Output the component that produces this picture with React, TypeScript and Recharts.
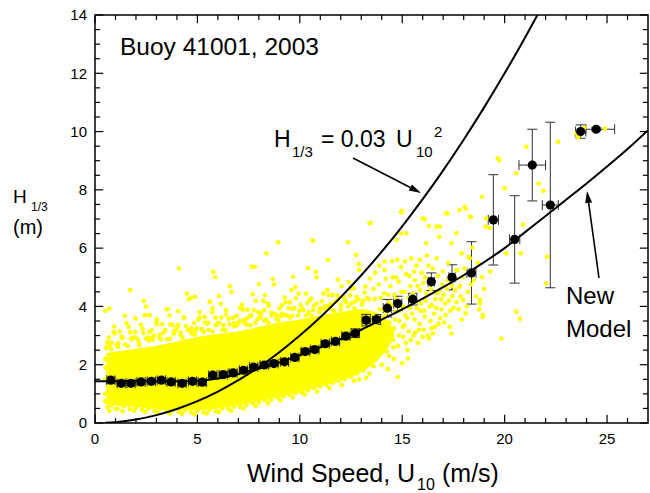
import React from 'react';
import {
  ComposedChart,
  XAxis,
  YAxis,
  Area,
  Scatter,
  ErrorBar,
  ReferenceLine,
  ReferenceArea,
  Customized,
} from 'recharts';

const FONT = '"Liberation Sans", Arial, Helvetica, sans-serif';
const YELLOW = '#FFFF00';

// ---- Dense core of the yellow cloud (lower / upper edge vs wind speed)
const bandX = [0.55, 1, 2, 3, 4, 5, 6, 7, 8, 9, 10, 11, 12, 13, 14, 14.6];
const bandLow = [0.65, 0.6, 0.55, 0.48, 0.44, 0.44, 0.5, 0.6, 0.75, 0.9, 1.05, 1.25, 1.45, 1.75, 2.3, 2.9];
const bandHigh = [2.4, 2.45, 2.55, 2.65, 2.8, 2.95, 3.05, 3.15, 3.3, 3.45, 3.55, 3.7, 3.8, 3.9, 3.7, 3.2];

// ---- Individual yellow observations: upper fringe of the cloud
const upperFringe: [number, number][] = [
  [0.55, 2.57], [0.68, 2.93], [0.81, 2.75], [0.94, 3.31], [1.07, 2.68], [1.2, 3.14], [1.33, 2.91], [1.46, 3.68],
  [1.59, 2.64], [1.72, 3.11], [1.85, 2.92], [1.98, 3.59], [2.11, 2.85], [2.24, 3.37], [2.37, 3.08], [2.5, 4.0],
  [2.63, 2.82], [2.76, 3.18], [2.89, 3.0], [3.02, 3.56], [3.15, 2.93], [3.28, 3.39], [3.41, 3.16], [3.54, 3.92],
  [3.67, 2.89], [3.8, 3.36], [3.93, 3.17], [4.06, 3.84], [4.19, 3.1], [4.32, 3.62], [4.45, 3.33], [4.58, 4.25],
  [4.71, 3.07], [4.84, 3.43], [4.97, 3.25], [5.1, 3.81], [5.23, 3.18], [5.36, 3.64], [5.49, 3.41], [5.62, 4.17],
  [5.75, 3.14], [5.88, 3.61], [6.01, 3.42], [6.14, 4.09], [6.27, 3.35], [6.4, 3.87], [6.53, 3.58], [6.66, 4.5],
  [6.79, 3.31], [6.92, 3.68], [7.05, 3.5], [7.18, 4.06], [7.31, 3.43], [7.44, 3.89], [7.57, 3.66], [7.7, 4.42],
  [7.83, 3.44], [7.96, 3.81], [8.09, 3.62], [8.22, 4.19], [8.35, 3.55], [8.48, 4.02], [8.61, 3.78], [8.74, 4.75],
  [8.87, 3.56], [9.0, 3.93], [9.13, 3.75], [9.26, 4.31], [9.39, 3.68], [9.52, 4.14], [9.65, 3.91], [9.78, 4.67],
  [9.91, 3.69], [10.04, 4.05], [10.17, 3.87], [10.3, 4.44], [10.43, 3.8], [10.56, 4.27], [10.69, 4.03], [10.82, 5.0],
  [10.95, 3.81], [11.08, 4.18], [11.21, 4.0], [11.34, 4.56], [11.47, 3.93], [11.6, 4.39], [11.73, 4.16], [11.86, 4.92],
  [11.99, 3.89], [12.12, 4.35], [12.25, 4.17], [12.38, 4.84], [12.51, 4.1], [12.64, 4.62], [12.77, 4.33], [12.9, 5.25],
  [13.03, 4.06], [13.16, 4.48], [13.29, 4.29], [13.42, 4.96],
  [0.62, 2.77], [0.79, 2.54], [0.96, 3.07], [1.13, 2.74], [1.3, 2.96], [1.47, 2.7], [1.64, 3.3], [1.81, 2.87],
  [1.98, 2.94], [2.15, 2.71], [2.32, 3.23], [2.49, 2.9], [2.66, 3.12], [2.83, 2.86], [3.0, 3.46], [3.17, 3.03],
  [3.34, 3.1], [3.51, 2.87], [3.68, 3.39], [3.85, 3.06], [4.02, 3.28], [4.19, 3.02], [4.36, 3.62], [4.53, 3.19],
  [4.7, 3.26], [4.87, 3.03], [5.04, 3.55], [5.21, 3.23], [5.38, 3.45], [5.55, 3.19], [5.72, 3.79], [5.89, 3.36],
  [6.06, 3.43], [6.23, 3.2], [6.4, 3.72], [6.57, 3.39], [6.74, 3.61], [6.91, 3.35], [7.08, 3.95], [7.25, 3.52],
  [7.42, 3.59], [7.59, 3.36], [7.76, 3.88], [7.93, 3.55], [8.1, 3.77], [8.27, 3.51], [8.44, 4.11], [8.61, 3.68],
  [8.78, 3.75], [8.95, 3.52], [9.12, 4.04], [9.29, 3.71], [9.46, 3.94], [9.63, 3.68], [9.8, 4.28], [9.97, 3.85],
  [10.14, 3.92], [10.31, 3.69], [10.48, 4.21], [10.65, 3.88], [10.82, 4.1], [10.99, 3.84], [11.16, 4.44], [11.33, 4.01],
  [11.5, 4.08], [11.67, 3.85], [11.84, 4.37], [12.01, 4.04], [12.18, 4.26], [12.35, 4.0], [12.52, 4.6], [12.69, 4.17],
  [12.86, 4.24], [13.03, 4.08], [13.2, 4.68], [13.37, 4.25],
  [0.7, 2.66], [0.91, 3.13], [1.12, 2.61], [1.33, 2.94], [1.54, 3.43], [1.75, 2.89], [1.96, 3.12], [2.17, 2.68],
  [2.38, 4.19], [2.59, 2.93], [2.8, 2.92], [3.01, 3.38], [3.22, 2.87], [3.43, 3.19], [3.64, 3.69], [3.85, 3.14],
  [4.06, 3.37], [4.27, 2.93], [4.48, 4.44], [4.69, 3.18], [4.9, 3.17], [5.11, 3.63], [5.32, 3.12], [5.53, 3.44],
  [5.74, 3.94], [5.95, 3.39], [6.16, 3.62], [6.37, 3.18], [6.58, 4.69], [6.79, 3.43], [7.0, 3.42], [7.21, 3.89],
  [7.42, 3.37], [7.63, 3.7], [7.84, 4.19], [8.05, 3.65], [8.26, 3.87], [8.47, 3.44], [8.68, 4.94], [8.89, 3.69],
  [9.1, 3.67], [9.31, 4.14], [9.52, 3.62], [9.73, 3.95], [9.94, 4.44], [10.15, 3.9], [10.36, 4.12], [10.57, 3.69],
  [10.78, 5.19], [10.99, 3.94], [11.2, 3.92], [11.41, 4.39], [11.62, 3.87], [11.83, 4.2], [12.04, 4.69], [12.25, 4.15],
  [12.46, 4.38], [12.67, 3.94], [12.88, 5.45], [13.09, 4.19],
];

// ---- Individual yellow observations: high-wind part of the cloud
const rightCloud: [number, number][] = [
  [13.55, 2.35], [13.62, 2.9], [13.7, 3.4], [13.6, 4.6], [13.68, 5.15], [13.75, 2.55], [13.82, 3.15], [13.9, 3.9],
  [13.95, 4.3], [13.88, 5.4], [14.02, 2.75], [14.08, 3.3], [14.15, 3.65], [14.12, 4.45], [14.2, 4.95], [14.25, 2.45],
  [14.3, 3.0], [14.38, 3.45], [14.35, 4.15], [14.42, 4.7], [14.5, 5.55], [14.55, 2.85], [14.6, 3.25], [14.66, 3.8],
  [14.62, 4.4], [14.7, 5.0], [14.78, 2.65], [14.85, 3.5], [14.9, 4.05], [14.82, 4.85], [14.95, 5.35], [15.05, 2.95],
  [15.1, 3.35], [15.15, 3.7], [15.12, 4.5], [15.2, 5.1], [15.25, 2.5], [15.32, 3.15], [15.38, 3.95], [15.4, 4.7],
  [15.45, 5.65], [15.55, 3.0], [15.6, 3.55], [15.66, 4.15], [15.62, 4.9], [15.7, 5.4], [15.78, 2.75], [15.85, 3.4],
  [15.9, 3.85], [15.88, 4.55], [15.95, 5.15], [16.05, 3.2], [16.1, 3.65], [16.15, 4.2], [16.12, 5.0], [16.2, 5.75],
  [16.3, 2.9], [16.38, 3.5], [16.45, 4.05], [16.4, 4.6], [16.5, 5.3], [16.6, 3.3], [16.66, 3.95], [16.7, 4.45],
  [16.75, 5.05], [16.85, 3.6], [16.9, 4.25], [16.95, 4.75], [17.05, 3.45], [17.1, 4.1], [17.18, 4.6], [17.25, 5.5],
  [17.35, 3.85], [17.45, 4.35], [17.55, 5.0], [17.65, 4.15], [17.8, 4.7], [17.9, 3.55], [18.05, 5.3], [18.2, 4.5],
  [18.5, 4.9], [18.7, 5.5], [19.0, 4.6], [19.3, 5.2],
  [13.45, 2.6], [13.52, 3.05], [13.58, 3.75], [13.66, 4.25], [13.72, 2.2], [13.8, 3.55], [13.86, 4.75], [13.93, 2.45],
  [14.0, 3.1], [14.06, 3.9], [14.14, 5.25], [14.18, 2.9], [14.24, 3.8], [14.32, 4.4], [14.36, 2.3], [14.44, 3.2],
  [14.48, 4.05], [14.54, 5.0], [14.58, 2.6], [14.64, 3.55], [14.72, 4.25], [14.76, 5.6], [14.84, 3.0], [14.88, 3.85],
  [14.96, 4.5], [15.02, 3.3], [15.08, 4.0], [15.14, 5.55], [15.18, 2.75], [15.24, 3.6], [15.3, 4.3], [15.36, 5.05],
  [15.42, 2.85], [15.48, 3.75], [15.52, 4.45], [15.58, 5.2], [15.64, 3.1], [15.72, 3.95], [15.76, 4.7], [15.82, 3.2],
  [15.86, 5.6], [15.92, 4.1], [16.0, 2.95], [16.02, 4.8], [16.08, 3.85], [16.18, 4.45], [16.24, 3.0], [16.28, 5.4],
  [16.34, 4.0], [16.42, 3.25], [16.48, 4.9], [16.56, 3.75], [16.62, 4.25], [16.68, 5.65], [16.78, 3.4], [16.82, 4.55],
  [16.92, 3.9], [16.98, 5.2], [17.02, 4.4], [17.12, 3.7], [17.2, 4.9], [17.28, 4.2], [17.32, 3.3], [17.42, 4.7],
  [17.5, 3.95], [17.58, 4.55], [17.7, 5.25], [17.75, 3.9], [17.85, 4.35], [17.95, 5.0], [18.15, 4.0], [18.25, 5.7],
  [18.35, 4.75], [18.6, 4.35], [18.75, 3.9], [18.9, 5.0],
];

// ---- Individual yellow observations: lower fringe of the cloud
const lowerFringe: [number, number][] = [
  [0.6, 0.55], [0.8, 0.6], [1.1, 0.5], [1.4, 0.58], [1.7, 0.48], [2.0, 0.52], [2.3, 0.45], [2.6, 0.5],
  [2.9, 0.42], [3.2, 0.47], [3.5, 0.4], [3.8, 0.44], [4.1, 0.38], [4.4, 0.43], [4.7, 0.37], [5.0, 0.42],
  [5.3, 0.36], [5.6, 0.45], [5.9, 0.4], [6.2, 0.5], [6.5, 0.48], [6.8, 0.56], [7.1, 0.55], [7.4, 0.62],
  [7.7, 0.68], [8.0, 0.7], [8.3, 0.78], [8.6, 0.8], [8.9, 0.88], [9.2, 0.92], [9.5, 0.98], [9.8, 1.03],
  [10.1, 1.05], [10.4, 1.12], [10.7, 1.2], [11.0, 1.25], [11.3, 1.3], [11.6, 1.38], [11.9, 1.45], [12.2, 1.5],
  [12.5, 1.58], [12.8, 1.7], [13.1, 1.8],
  [0.7, 0.42], [1.0, 0.48], [1.35, 0.4], [1.9, 0.42], [2.45, 0.38], [3.05, 0.36], [3.65, 0.33], [4.25, 0.32],
  [4.85, 0.3], [5.45, 0.33], [6.05, 0.38], [6.65, 0.42], [7.25, 0.5], [7.85, 0.58], [8.45, 0.68], [9.05, 0.78],
  [9.65, 0.88], [10.25, 0.98], [10.85, 1.08], [11.45, 1.2], [12.05, 1.3], [12.65, 1.45], [13.25, 1.55], [13.6, 1.95],
  [14.0, 2.0], [14.3, 1.85], [14.6, 2.2], [15.0, 2.05], [12.9, 1.5], [13.4, 1.7],
  [0.5, 1.0], [0.5, 1.5], [0.52, 1.9], [0.55, 2.6], [0.5, 0.75], [0.5, 2.2],
];

// ---- Individual yellow observations: isolated outliers
const outliers: [number, number][] = [
  [0.5, 3.85], [0.7, 3.93], [1.72, 4.56], [2.67, 3.7], [2.44, 3.7], [3.5, 3.9], [4.1, 5.3], [4.7, 4.3],
  [4.88, 4.33], [5.6, 4.16], [6.05, 4.36], [5.77, 5.19], [5.87, 5.01], [7.65, 5.36], [7.8, 5.36], [8.0, 4.76],
  [8.3, 4.39], [8.37, 5.82], [8.94, 6.2], [9.6, 4.56], [9.67, 5.02], [10.4, 5.31], [10.63, 6.27], [10.65, 6.25],
  [11.38, 5.59], [12.36, 6.2], [12.76, 5.77], [13.41, 6.85], [13.46, 6.87], [14.15, 5.54], [14.72, 6.28], [14.94, 6.5],
  [14.96, 7.23], [14.98, 7.28], [15.2, 6.51], [14.78, 1.58], [15.28, 2.21], [16.0, 7.02], [16.1, 6.99], [16.17, 6.17],
  [16.3, 6.76], [16.5, 3.07], [16.67, 6.74], [16.83, 6.74], [16.8, 6.39], [17.15, 7.2], [17.2, 7.19], [17.4, 6.17],
  [17.4, 3.07], [17.64, 6.51], [17.64, 5.25], [17.8, 7.31], [17.8, 4.68], [17.9, 5.82], [17.97, 4.22], [18.05, 7.42],
  [18.1, 7.36], [18.1, 3.76], [18.3, 7.08], [18.3, 5.65], [18.36, 7.07], [18.42, 6.02], [18.8, 4.22], [18.8, 4.1],
  [18.9, 7.76], [18.93, 3.64], [18.94, 3.71], [19.07, 6.74], [19.1, 7.02], [19.27, 6.69], [19.67, 9.08], [19.74, 9.02],
  [19.84, 2.9], [20.0, 8.05], [20.08, 5.82], [20.57, 8.57], [20.57, 3.82], [20.75, 3.58], [20.8, 5.82], [20.9, 6.8],
  [21.06, 9.48], [21.66, 8.22], [21.9, 7.97], [22.03, 4.79], [22.07, 5.7], [22.6, 9.65], [23.5, 9.93], [23.9, 10.13],
  [24.9, 10.1], [23.6, 9.8],
];

// ---- Binned means with error bars (black dots)
const binX = [0.77, 1.28, 1.76, 2.25, 2.75, 3.24, 3.72, 4.25, 4.76, 5.24, 5.75, 6.26, 6.74, 7.25, 7.75, 8.26, 8.74, 9.25, 9.76, 10.26, 10.73, 11.24, 11.74, 12.25, 12.71, 13.24, 13.74, 14.27, 14.78, 15.51, 16.42, 17.43, 18.38, 19.45, 20.49, 21.35, 22.23, 23.71, 24.47];
const binY = [1.47, 1.36, 1.36, 1.41, 1.43, 1.47, 1.41, 1.36, 1.43, 1.4, 1.64, 1.66, 1.72, 1.81, 1.92, 1.99, 2.04, 2.1, 2.25, 2.45, 2.52, 2.72, 2.8, 2.98, 3.08, 3.53, 3.55, 3.94, 4.1, 4.25, 4.85, 5.0, 5.15, 6.97, 6.3, 8.85, 7.48, 10.0, 10.08];
const binErrY = [0.1, 0.08, 0.08, 0.08, 0.08, 0.08, 0.08, 0.08, 0.08, 0.1, 0.08, 0.08, 0.08, 0.08, 0.08, 0.08, 0.08, 0.08, 0.08, 0.08, 0.08, 0.08, 0.08, 0.1, 0.15, 0.2, 0.17, 0.3, 0.25, 0.2, 0.3, 0.43, 1.07, 1.55, 1.5, 1.23, 2.84, 0.23, 0.05];
const binErrXLow = [0.2, 0.2, 0.2, 0.2, 0.2, 0.2, 0.2, 0.2, 0.2, 0.2, 0.2, 0.2, 0.2, 0.2, 0.2, 0.2, 0.2, 0.2, 0.2, 0.2, 0.2, 0.2, 0.2, 0.2, 0.2, 0.2, 0.2, 0.2, 0.2, 0.2, 0.15, 0.15, 0.22, 0.25, 0.25, 0.65, 0.39, 0.25, 0.5];
const binErrXHigh = [0.2, 0.2, 0.2, 0.2, 0.2, 0.2, 0.2, 0.2, 0.2, 0.2, 0.2, 0.2, 0.2, 0.2, 0.2, 0.2, 0.2, 0.2, 0.2, 0.2, 0.2, 0.2, 0.2, 0.2, 0.2, 0.2, 0.2, 0.2, 0.2, 0.2, 0.15, 0.15, 0.22, 0.25, 0.25, 0.65, 0.39, 0.25, 0.9];

// ---- H1/3 = 0.03 U10^2 curve
const powerX = [0.5, 1, 2, 3, 4, 5, 6, 7, 8, 9, 10, 11, 12, 13, 14, 15, 16, 17, 18, 19, 20, 21, 21.6];
const powerY = [0.01, 0.03, 0.12, 0.27, 0.48, 0.75, 1.08, 1.47, 1.92, 2.43, 3.0, 3.63, 4.32, 5.07, 5.88, 6.75, 7.68, 8.67, 9.72, 10.83, 12.0, 13.23, 14.0];

// ---- New Model curve
const modelX = [0, 2, 4, 5, 6, 7, 8, 9, 10, 11, 12, 13, 14, 15, 16, 17, 18, 19, 20, 21, 22, 23, 24, 25, 26, 27];
const modelY = [1.43, 1.43, 1.43, 1.45, 1.53, 1.68, 1.87, 2.08, 2.33, 2.6, 2.88, 3.2, 3.55, 3.9, 4.27, 4.66, 5.07, 5.52, 6.0, 6.55, 7.1, 7.66, 8.22, 8.8, 9.4, 10.05];

// ---- Axes
const xMajorTicks = [0, 5, 10, 15, 20, 25];
const xMinorTicks = [1, 2, 3, 4, 6, 7, 8, 9, 11, 12, 13, 14, 16, 17, 18, 19, 21, 22, 23, 24, 26];
const yMajorTicks = [0, 2, 4, 6, 8, 10, 12, 14];
const yMinorTicks = [0.5, 1, 1.5, 2.5, 3, 3.5, 4.5, 5, 5.5, 6.5, 7, 7.5, 8.5, 9, 9.5, 10.5, 11, 11.5, 12.5, 13, 13.5];
const X_MAX = 27;
const Y_MAX = 14;

const toXY = (pts: [number, number][]) => pts.map(([x, y]) => ({ x, y }));
const bandData = bandX.map((x, i) => ({ x, band: [bandLow[i], bandHigh[i]] }));
const speckleData = toXY([...lowerFringe, ...upperFringe, ...rightCloud, ...outliers]);
const binData = binX.map((x, i) => ({
  x,
  y: binY[i],
  ey: binErrY[i],
  ex: [binErrXLow[i], binErrXHigh[i]],
}));
const powerData = powerX.map((x, i) => ({ x, y: powerY[i] }));
const modelData = modelX.map((x, i) => ({ x, y: modelY[i] }));

// tick lengths expressed in axis units
const X_TICK_MAJOR = 0.28;
const X_TICK_MINOR = 0.17;
const Y_TICK_MAJOR = 0.4;
const Y_TICK_MINOR = 0.25;

const Arrow = ({ x1, y1, x2, y2 }: { x1: number; y1: number; x2: number; y2: number }) => {
  const ang = Math.atan2(y2 - y1, x2 - x1);
  const L = 12;
  const W = 3.5;
  const bx = x2 - L * Math.cos(ang);
  const by = y2 - L * Math.sin(ang);
  const p1x = bx + W * Math.sin(ang);
  const p1y = by - W * Math.cos(ang);
  const p2x = bx - W * Math.sin(ang);
  const p2y = by + W * Math.cos(ang);
  return (
    <g>
      <line x1={x1} y1={y1} x2={bx} y2={by} stroke="#000" strokeWidth={1.6} />
      <polygon points={`${x2},${y2} ${p1x},${p1y} ${p2x},${p2y}`} fill="#000" />
    </g>
  );
};

const Annotations = () => (
  <g fontFamily={FONT} fill="#000">
    <text x={120} y={55} fontSize={24.5}>Buoy 41001, 2003</text>

    <text x={274} y={147} fontSize={23}>H</text>
    <text x={292} y={157} fontSize={15}>1/3</text>
    <text x={321} y={147} fontSize={23}>= 0.03</text>
    <text x={396} y={147} fontSize={23}>U</text>
    <text x={416} y={157} fontSize={15}>10</text>
    <text x={434} y={137} fontSize={15}>2</text>
    <Arrow x1={353} y1={158} x2={421} y2={193} />

    <text x={566} y={304} fontSize={24}>New</text>
    <text x={566} y={337} fontSize={24}>Model</text>
    <Arrow x1={599} y1={278} x2={587} y2={191} />

    <text x={13} y={203} fontSize={19}>H</text>
    <text x={31} y={211} fontSize={12}>1/3</text>
    <text x={13} y={234} fontSize={20}>(m)</text>

    <text x={247} y={482} fontSize={25}>Wind Speed, U</text>
    <text x={417} y={490} fontSize={16}>10</text>
    <text x={442} y={482} fontSize={25}>(m/s)</text>
  </g>
);

const yellowDot = (p: any) => <circle cx={p.cx} cy={p.cy} r={2.3} fill={YELLOW} />;
const blackDot = (p: any) => <circle cx={p.cx} cy={p.cy} r={4.6} fill="#000" />;
const noDot = () => <g />;

export default function App() {
  return (
    <div style={{ position: 'absolute', left: 0, top: 0, width: 650, height: 493, background: '#fff' }}>
      <ComposedChart
        width={650}
        height={493}
        data={bandData}
        margin={{ top: 15, right: 2, bottom: 0, left: 0 }}
      >
        <XAxis
          dataKey="x"
          type="number"
          domain={[0, X_MAX]}
          ticks={xMajorTicks}
          allowDataOverflow
          height={70}
          tickLine={false}
          axisLine={false}
          tickSize={6}
          tickMargin={4}
          tick={{ fill: '#000', fontSize: 15, fontFamily: FONT }}
        />
        <YAxis
          type="number"
          domain={[0, Y_MAX]}
          ticks={yMajorTicks}
          allowDataOverflow
          width={95}
          tickLine={false}
          axisLine={false}
          tickSize={6}
          tickMargin={2}
          tick={{ fill: '#000', fontSize: 15, fontFamily: FONT }}
        />

        <Area
          dataKey="band"
          type="monotone"
          stroke="none"
          fill={YELLOW}
          fillOpacity={1}
          isAnimationActive={false}
          activeDot={false}
        />
        <Scatter data={speckleData} dataKey="y" shape={yellowDot} isAnimationActive={false} />

        <ReferenceArea x1={0} x2={X_MAX} y1={0} y2={Y_MAX} fill="none" fillOpacity={0} stroke="#000" strokeWidth={1.5} />

        {xMajorTicks.concat(xMinorTicks).map((v) => {
          const len = xMajorTicks.includes(v) ? X_TICK_MAJOR : X_TICK_MINOR;
          return (
            <ReferenceLine key={`xb${v}`} segment={[{ x: v, y: 0 }, { x: v, y: len }]} stroke="#000" strokeWidth={1.2} />
          );
        })}
        {xMajorTicks.concat(xMinorTicks).map((v) => {
          const len = xMajorTicks.includes(v) ? X_TICK_MAJOR : X_TICK_MINOR;
          return (
            <ReferenceLine key={`xt${v}`} segment={[{ x: v, y: Y_MAX }, { x: v, y: Y_MAX - len }]} stroke="#000" strokeWidth={1.2} />
          );
        })}
        {yMajorTicks.concat(yMinorTicks).map((v) => {
          const len = yMajorTicks.includes(v) ? Y_TICK_MAJOR : Y_TICK_MINOR;
          return (
            <ReferenceLine key={`yl${v}`} segment={[{ x: 0, y: v }, { x: len, y: v }]} stroke="#000" strokeWidth={1.2} />
          );
        })}
        {yMajorTicks.concat(yMinorTicks).map((v) => {
          const len = yMajorTicks.includes(v) ? Y_TICK_MAJOR : Y_TICK_MINOR;
          return (
            <ReferenceLine key={`yr${v}`} segment={[{ x: X_MAX, y: v }, { x: X_MAX - len, y: v }]} stroke="#000" strokeWidth={1.2} />
          );
        })}

        <Scatter
          data={powerData}
          dataKey="y"
          shape={noDot}
          line={{ stroke: '#000', strokeWidth: 2 }}
          lineJointType="monotoneX"
          isAnimationActive={false}
        />
        <Scatter
          data={modelData}
          dataKey="y"
          shape={noDot}
          line={{ stroke: '#000', strokeWidth: 2 }}
          lineJointType="monotoneX"
          isAnimationActive={false}
        />

        <Scatter data={binData} dataKey="y" shape={blackDot} isAnimationActive={false}>
          <ErrorBar dataKey="ey" direction="y" width={5} stroke="#333" strokeWidth={1} />
          <ErrorBar dataKey="ex" direction="x" width={5} stroke="#333" strokeWidth={1} />
        </Scatter>

        <Customized component={Annotations} />
      </ComposedChart>
    </div>
  );
}
